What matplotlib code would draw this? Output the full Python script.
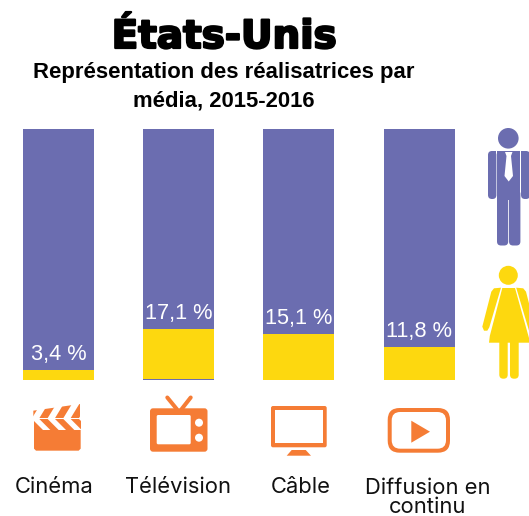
import numpy as np
import matplotlib
matplotlib.use('Agg')
import matplotlib.pyplot as plt
from matplotlib.patches import Polygon, Circle, FancyBboxPatch
import matplotlib.patheffects as pe

plt.rcParams['font.family'] = ['Inter', 'DejaVu Sans']

medias = ['Cinéma', 'Télévision', 'Câble', 'Diffusion en\ncontinu']
etiquettes = ['3,4 %', '17,1 %', '15,1 %', '11,8 %']
# hauteurs (les barres ne suivent pas exactement les etiquettes)
femmes = [4.0, 20.0, 18.3, 13.1]
base_femmes = [0, 0.4, 0, 0]
total = [100, 100, 100, 100]

violet = '#6b6db0'
jaune = '#fdd80f'
orange = '#f57c35'

W, H = 529, 516
fig = plt.figure(figsize=(W/100, H/100), dpi=100)

# axe des barres
ax = fig.add_axes([0, (H-380)/H, 1, 251/H])
x = np.arange(len(medias))
pas = 120.2
ax.set_xlim(-58.5/pas, (W-58.5)/pas)
ax.set_ylim(0, 100)
ax.bar(x, total, width=71/pas, color=violet)
ax.bar(x, femmes, width=71/pas, bottom=base_femmes, color=jaune)
for i in x:
    ax.annotate(etiquettes[i], (i, femmes[i]+base_femmes[i]), xytext=(0, 7), textcoords='offset points',
                ha='center', va='baseline', color='white', fontsize=15.7, family='Liberation Sans')
ax.axis('off')

# axe en pixels pour les titres et les icones
ov = fig.add_axes([0, 0, 1, 1])
ov.set_xlim(0, W)
ov.set_ylim(H, 0)
ov.axis('off')
ov.patch.set_alpha(0)

ov.text(224, 48, 'États-Unis', ha='center', va='baseline', fontsize=28, fontweight='bold', color='black',
        family='DejaVu Sans', path_effects=[pe.withStroke(linewidth=1.6, foreground='black')])
ov.text(224, 78, 'Représentation des réalisatrices par', ha='center', va='baseline',
        fontsize=15.9, fontweight='bold', color='black', family='Liberation Sans')
ov.text(224, 107, 'média, 2015-2016', ha='center', va='baseline',
        fontsize=15.9, fontweight='bold', color='black', family='Liberation Sans')

for cx, lab in zip([54, 178, 301, 428], medias):
    y = 513 if '\n' in lab else 493
    ov.text(cx, y, lab, ha='center', va='baseline', fontsize=15.8, color='#111111', linespacing=0.92)

def rbox(x0, y0, x1, y1, r, **kw):
    p = FancyBboxPatch((x0+r, y0+r), x1-x0-2*r, y1-y0-2*r, boxstyle='round,pad=%g,rounding_size=%g' % (r, r),
                       linewidth=kw.pop('lw', 0), **kw)
    ov.add_patch(p)

def poly(pts, color):
    ov.add_patch(Polygon(pts, closed=True, color=color, lw=0))

# homme
ov.add_patch(Circle((508.3, 138.3), 10.3, color=violet, lw=0))
rbox(488, 151, 496.4, 199, 4, color=violet)
rbox(521, 151, 530, 199, 4, color=violet)
poly([(492, 151), (496.4, 151), (496.4, 160), (492, 160)], violet)
poly([(521, 151), (526, 151), (526, 160), (521, 160)], violet)
poly([(497, 151), (520.4, 151), (520.4, 200), (497, 200)], violet)
rbox(497, 190, 508.2, 245.5, 4, color=violet)
rbox(509, 190, 520.4, 245.5, 4, color=violet)
poly([(505, 152), (512.5, 152), (511, 156), (513, 176), (508.7, 181.5), (504.5, 176), (506.5, 156)], 'white')

# femme
ov.add_patch(Circle((508.3, 275.3), 9.5, color=jaune, lw=0))
poly([(502.3, 288), (515, 288), (529, 338), (529, 342.7), (489, 342.7), (489.8, 336)], jaune)
rbox(499.3, 335, 507.7, 378.7, 4, color=jaune)
rbox(510, 335, 518.7, 378.7, 4, color=jaune)
poly([(501, 287.7), (494, 288.3), (491.3, 291.7), (482.3, 326.7), (484, 330.7), (487.3, 330.7), (489.3, 327.3)], jaune)
poly([(516.2, 287.7), (523.2, 288.3), (526, 291.7), (535, 326.7), (529, 330.7)], jaune)

# clap, coordonnees de la loupe (x/3, 390+y/3)
def zc(pts):
    return [(px/3, 390+py/3) for px, py in pts]

poly(zc([(102, 120), (242, 120), (242, 176), (236, 182), (108, 182), (102, 176)]), orange)
poly(zc([(102, 88), (242, 88), (242, 121), (102, 121)]), orange)
poly(zc([(100, 62), (240, 42), (240, 84), (100, 84)]), orange)
for tx in [95, 142, 189, 236]:
    poly(zc([(tx, 86), (tx+28, 40), (tx+50, 40), (tx+22, 86), (tx+56, 120), (tx+34, 120)]), 'white')

# tele
rbox(150, 408.3, 207.5, 451.7, 3, color=orange)
rbox(156.7, 415, 190.7, 444.3, 1.5, color='white')
ov.add_patch(Circle((199, 422.7), 4, color='white', lw=0))
ov.add_patch(Circle((199, 437.7), 4, color='white', lw=0))
ov.plot([176.7, 167.3], [409, 397.5], color=orange, lw=2.9, solid_capstyle='round')
ov.plot([181.7, 190.7], [409, 397.5], color=orange, lw=2.9, solid_capstyle='round')

# ecran
rbox(271, 406, 326.7, 447.3, 2, color=orange)
poly([(275, 410), (323, 410), (323, 443.3), (275, 443.3)], 'white')
poly([(291.7, 450), (305.7, 450), (311, 455.7), (286.7, 455.7)], orange)

# lecture
rbox(387.7, 408, 450, 452.7, 12, color=orange)
rbox(391.7, 412, 446, 448.7, 8.5, color='white')
poly([(411.3, 420.7), (411.3, 442.7), (430, 431.7)], orange)

fig.savefig('out.png', dpi=100)
